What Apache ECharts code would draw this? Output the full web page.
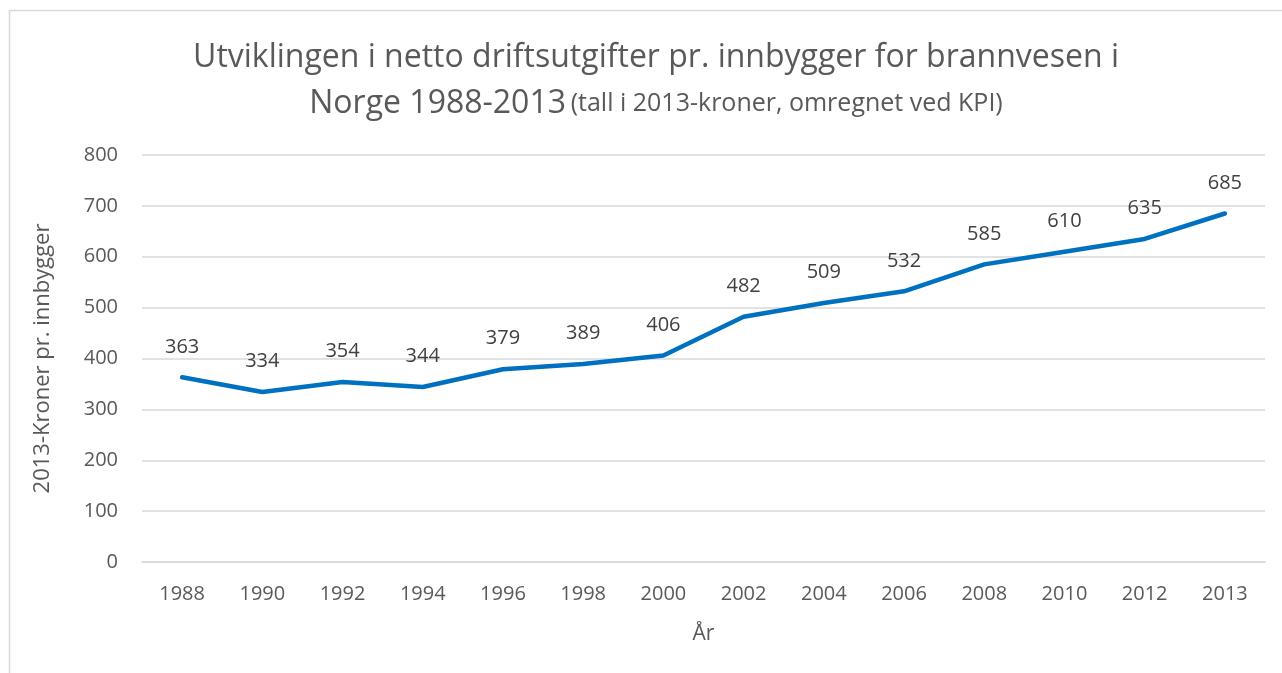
<!DOCTYPE html>
<html>
<head>
<meta charset="utf-8">
<script src="https://cdn.jsdelivr.net/npm/echarts@6/dist/echarts.min.js"></script>
<style>
  html, body { margin: 0; padding: 0; background: #fff; }
  #chart { width: 1282px; height: 673px; }
</style>
</head>
<body>
<div id="chart"></div>
<script>
// år og kroner per innbygger (2013-kroner)
var years = ['1988', '1990', '1992', '1994', '1996', '1998', '2000', '2002', '2004', '2006', '2008', '2010', '2012', '2013']
var kroner = [363, 334, 354, 344, 379, 389, 406, 482, 509, 532, 585, 610, 635, 685]
var yTicks = [0, 100, 200, 300, 400, 500, 600, 700, 800]

var font = '"Open Sans", "Liberation Sans", sans-serif'
var myChart = echarts.init(document.getElementById('chart'))

var option = {
    backgroundColor: '#fff',
    textStyle: { fontFamily: font },
    graphic: [{
        type: 'rect',
        shape: { x: 9.5, y: 10.5, width: 1300, height: 700 },
        style: { fill: 'none', stroke: '#d9d9d9', lineWidth: 1.5 },
        silent: true
    }],
    title: {
        text: '{a|Utviklingen i netto driftsutgifter pr. innbygger for brannvesen i}\n{a|Norge 1988-2013} {b|(tall i 2013-kroner, omregnet ved KPI)}',
        left: 651,
        textAlign: 'center',
        top: 30,
        textStyle: {
            fontWeight: 'normal',
            rich: {
                a: { fontFamily: font, fontSize: 32, fontWeight: 'normal', color: '#595959', lineHeight: 46 },
                b: { fontFamily: font, fontSize: 25, fontWeight: 'normal', color: '#595959', lineHeight: 46 }
            }
        }
    },
    grid: { left: 142, right: 17, top: 155, bottom: 111 },
    xAxis: {
        type: 'category',
        data: years,
        boundaryGap: true,
        name: 'År',
        nameLocation: 'middle',
        nameGap: 62,
        nameTextStyle: { fontSize: 21, color: '#595959', fontFamily: font },
        axisLine: { show: true, lineStyle: { color: '#d9d9d9', width: 1.5 } },
        axisTick: { show: false },
        axisLabel: { fontSize: 20, color: '#595959', margin: 22, fontFamily: font }
    },
    yAxis: {
        type: 'value',
        min: yTicks[0],
        max: yTicks[yTicks.length - 1],
        interval: 100,
        name: '2013-Kroner pr. innbygger',
        nameLocation: 'middle',
        nameGap: 88,
        nameTextStyle: { fontSize: 22, color: '#595959', fontFamily: font },
        axisLine: { show: false },
        axisTick: { show: false },
        axisLabel: { fontSize: 20, color: '#595959', margin: 24, fontFamily: font },
        splitLine: { lineStyle: { color: '#d9d9d9', width: 1.5 } }
    },
    series: [{
        type: 'line',
        data: kroner,
        symbol: 'circle',
        symbolSize: 1,
        showSymbol: true,
        lineStyle: { color: '#0070C0', width: 4.5, cap: 'round', join: 'round' },
        itemStyle: { color: '#0070C0' },
        label: {
            show: true,
            position: 'top',
            distance: 20,
            fontSize: 20,
            color: '#404040',
            fontFamily: font
        },
        animation: false
    }]
}
myChart.setOption(option)
window.addEventListener('resize', function () { myChart.resize() })
</script>
</body>
</html>
